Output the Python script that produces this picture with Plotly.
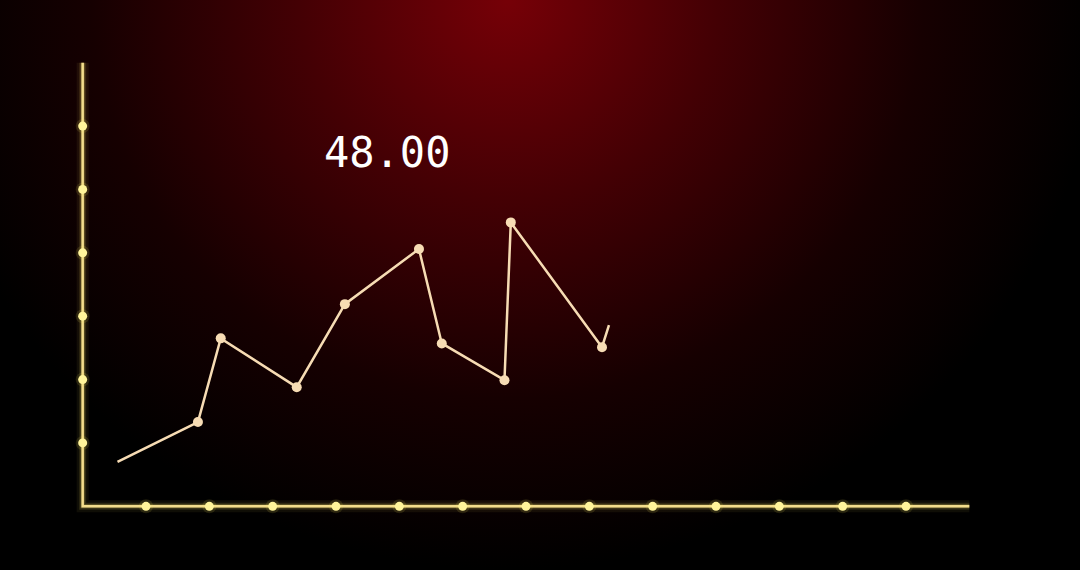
import plotly.graph_objects as go
import urllib.parse

# Data (axis units: one tick = 1)
line_x = [0.55, 1.82, 2.18, 3.38, 4.14, 5.31, 5.67, 6.66, 6.76, 8.20, 8.31]
line_y = [0.70, 1.33, 2.65, 1.88, 3.19, 4.06, 2.57, 1.99, 4.48, 2.51, 2.86]
marker_x = line_x[1:-1]
marker_y = line_y[1:-1]
x_ticks = list(range(1, 14))
y_ticks = list(range(1, 7))
x_max = 14
y_max = 7
label_text = "48.00"
label_pos = (4.8, 5.59)

W, H = 1080, 570
L, R, T, B = 51, 79, 31, 32
PW, PH = W - L - R, H - T - B

svg = (
    f'<svg xmlns="http://www.w3.org/2000/svg" width="{W}" height="{H}">'
    '<defs><radialGradient id="g" cx="0.47" cy="0" r="1" '
    'gradientTransform="translate(0.47,0) scale(0.55,1) translate(-0.47,0)">'
    '<stop offset="0" stop-color="#760007"/>'
    '<stop offset="0.35" stop-color="#440004"/>'
    '<stop offset="0.7" stop-color="#160001"/>'
    '<stop offset="1" stop-color="#000000"/>'
    '</radialGradient></defs>'
    f'<rect width="{W}" height="{H}" fill="#000"/>'
    f'<rect width="{W}" height="{H}" fill="url(#g)"/></svg>'
)
bg_src = "data:image/svg+xml;charset=utf-8," + urllib.parse.quote(svg)

fig = go.Figure()

axis_x = [0, 0, x_max]
axis_y = [y_max, 0, 0]
for w, op in [(12, 0.06), (7, 0.12), (4, 0.25)]:
    fig.add_trace(go.Scatter(x=axis_x, y=axis_y, mode="lines",
                             line=dict(color="#ffe86a", width=w),
                             opacity=op, hoverinfo="skip", showlegend=False))
fig.add_trace(go.Scatter(x=axis_x, y=axis_y, mode="lines",
                         line=dict(color="#f3dd8c", width=2.5),
                         hoverinfo="skip", showlegend=False))

tick_px = x_ticks + [0] * len(y_ticks)
tick_py = [0] * len(x_ticks) + y_ticks
fig.add_trace(go.Scatter(x=tick_px, y=tick_py, mode="markers",
                         marker=dict(color="rgba(255,238,96,0.12)", size=14,
                                     line=dict(width=0)),
                         hoverinfo="skip", showlegend=False))
fig.add_trace(go.Scatter(x=tick_px, y=tick_py, mode="markers",
                         marker=dict(color="#fff49a", size=9, line=dict(width=0)),
                         hoverinfo="skip", showlegend=False))

fig.add_trace(go.Scatter(x=line_x, y=line_y, mode="lines",
                         line=dict(color="#f7dcb4", width=2.5),
                         showlegend=False))
fig.add_trace(go.Scatter(x=marker_x, y=marker_y, mode="markers",
                         marker=dict(color="#f7dcb4", size=10, line=dict(width=0)),
                         showlegend=False))

fig.add_annotation(x=label_pos[0], y=label_pos[1], text=label_text,
                   showarrow=False,
                   font=dict(family="DejaVu Sans Mono", size=42, color="#ffffff"))

fig.add_layout_image(dict(source=bg_src, xref="paper", yref="paper",
                          x=-L / PW, y=1 + T / PH,
                          sizex=W / PW, sizey=H / PH,
                          xanchor="left", yanchor="top", sizing="stretch",
                          layer="below"))

fig.update_layout(
    width=W, height=H,
    margin=dict(l=L, r=R, t=T, b=B, pad=0),
    paper_bgcolor="#000000", plot_bgcolor="rgba(0,0,0,0)",
    xaxis=dict(range=[-0.5, x_max + 0.5], visible=False, fixedrange=True),
    yaxis=dict(range=[-0.5, y_max + 0.5], visible=False, fixedrange=True),
    showlegend=False,
)

fig.write_html("out.html", config={"displayModeBar": False},
               post_script="document.body.style.margin='0';document.body.style.background='#000';")
